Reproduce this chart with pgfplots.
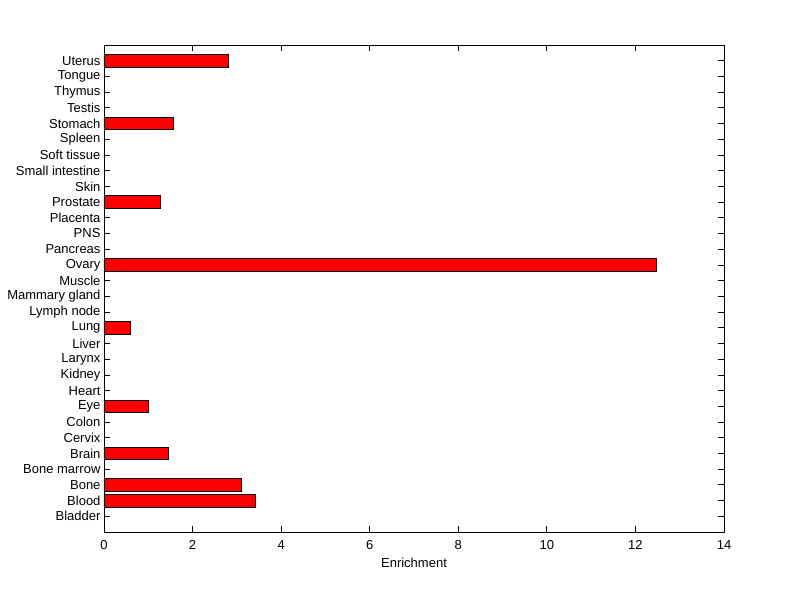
\documentclass[border=0pt]{standalone}
\usepackage{pgfplots}
\pgfplotsset{compat=1.18}
\usepackage{fontspec}
\setmainfont{Liberation Sans}
\begin{document}
\begin{tikzpicture}[x=1pt,y=1pt]
\path[use as bounding box] (-104,-67) rectangle (696,532);
\begin{axis}[
  at={(0,0)}, anchor=south west,
  scale only axis, width=620pt, height=487pt,
  xbar, bar width=0.8,
  xmin=0, xmax=14, ymin=-1, ymax=30,
  xtick={0,2,...,14},
  ytick={0,...,29},
  yticklabels={Bladder,Blood,Bone,Bone marrow,Brain,Cervix,Colon,Eye,Heart,Kidney,Larynx,Liver,Lung,Lymph node,Mammary gland,Muscle,Ovary,Pancreas,PNS,Placenta,Prostate,Skin,Small intestine,Soft tissue,Spleen,Stomach,Testis,Thymus,Tongue,Uterus},
  xtick pos=both, ytick pos=both,
  tick align=inside, xtick align=inside, ytick align=inside,
  major tick length=6pt,
  major tick style={black, line width=0.8pt},
  axis line style={line width=0.8pt},
  ticklabel style={font=\fontsize{13}{15}\selectfont},
  label style={font=\fontsize{13}{15}\selectfont},
  xticklabel style={yshift=-5pt},
  /pgf/number format/assume math mode=true,
  xlabel={Enrichment},
  xlabel style={yshift=-1pt},
]
\addplot[fill=red, draw=black, line width=0.7pt] coordinates {
(3.42,1) (3.10,2) (1.46,4) (1.00,7)
(0.60,12) (12.48,16)
(1.27,20) (1.57,25) (2.81,29)
};
\end{axis}
\end{tikzpicture}
\end{document}
